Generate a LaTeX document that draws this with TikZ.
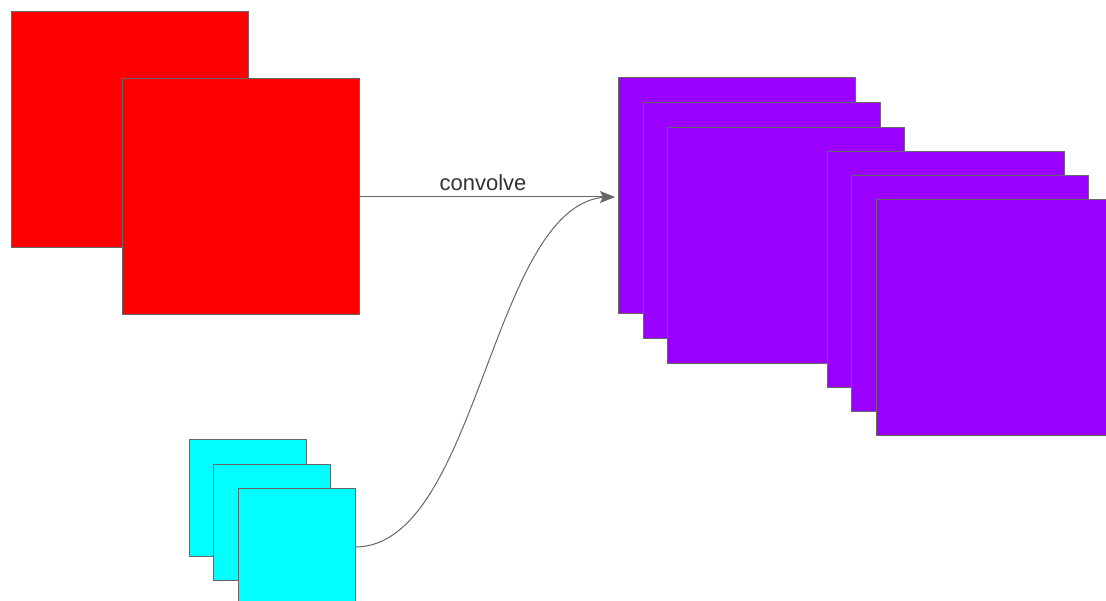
\documentclass[tikz,border=0pt]{standalone}
\usepackage{fontspec}
\setmainfont{Liberation Sans}
\usetikzlibrary{arrows.meta, positioning}

\definecolor{edgegray}{HTML}{666666}
\definecolor{linegray}{HTML}{666666}
\definecolor{mapred}{HTML}{FF0000}
\definecolor{mappurple}{HTML}{9900FF}
\definecolor{kernelcyan}{HTML}{00FFFF}

\begin{document}
\begin{tikzpicture}[x=1pt, y=-1pt,
        fmap/.style={rectangle, draw=edgegray, line width=1pt, anchor=north west, inner sep=0pt, outer sep=0pt},
        inmap/.style={fmap, fill=mapred, minimum width=237pt, minimum height=236pt},
        outmap/.style={fmap, fill=mappurple, minimum width=237pt, minimum height=236pt},
        kernel/.style={fmap, fill=kernelcyan, minimum width=117pt, minimum height=116pt},
        link/.style={draw=linegray, line width=1pt},
        arrow/.style={link, -{Stealth[length=15pt, width=12pt, inset=3pt, fill=linegray]}}
    ]
        \useasboundingbox (0,0) rectangle (1106,601);

        % input channels
        \node[inmap] (in1) at (11,12) {};
        \node[inmap] (in2) at (122,79) {};

        % output feature maps
        \node[outmap] (out1) at (618,78) {};
        \node[outmap] (out2) at (643,103) {};
        \node[outmap] (out3) at (667,128) {};
        \node[outmap] (out4) at (827,152) {};
        \node[outmap] (out5) at (851,176) {};
        \node[outmap] (out6) at (876,200) {};

        % filters
        \node[kernel] (k1) at (189,440) {};
        \node[kernel] (k2) at (213,464) {};
        \node[kernel] (k3) at (238,488) {};

        % the curve meets the straight arrow under its head
        \coordinate (tip) at ([xshift=-3pt]in2.east -| out1.west);
        \draw[link] (k3.east |- 0,547) .. controls +(125,0) and +(-118,0) .. ([xshift=-6pt]tip);
        \draw[arrow] (in2.east) -- (tip) node[midway, above=2pt, xshift=-4pt, font=\fontsize{22}{26}\selectfont, text=black!80] {convolve};
    \end{tikzpicture}
\end{document}
